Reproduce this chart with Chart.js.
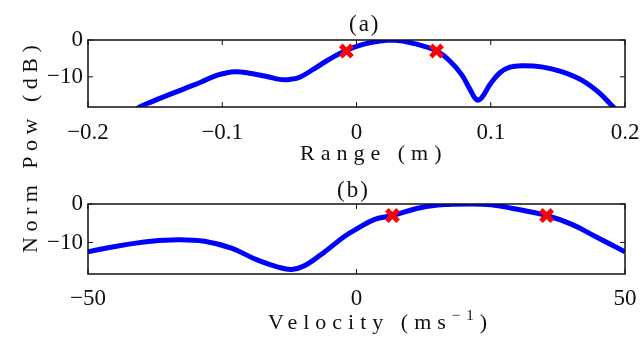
<!DOCTYPE html>
<html>
<head>
<meta charset="utf-8">
<script src="https://cdn.jsdelivr.net/npm/chart.js@4"></script>
<style>
  body { margin: 0; background: #fff; }
  #wrap { position: relative; width: 642px; height: 337px; }
  canvas { position: absolute; left: 0; top: 0; }
</style>
</head>
<body>
<div id="wrap">
  <canvas id="rangeChart" width="642" height="337"></canvas>
  <canvas id="velocityChart" width="642" height="337"></canvas>
</div>
<script>
// tick positions
const rangeTicks = [-0.2, -0.1, 0, 0.1, 0.2];
const velocityTicks = [-50, 0, 50];
const powTicks = [-10, 0];

// (a) normalised power against range
const rangeM = [-0.165, -0.1615, -0.1528, -0.128, -0.1156, -0.1031, -0.0907, -0.0783, -0.0659,
  -0.0572, -0.0497, -0.0423, -0.0323, -0.0224, -0.0075, 0.0049, 0.0174, 0.0273, 0.0422, 0.0596,
  0.0695, 0.0783, 0.0845, 0.0894, 0.0932, 0.0994, 0.1068, 0.1143, 0.123, 0.1379, 0.1528, 0.1677,
  0.18, 0.19, 0.194];
const rangePow = [-19.2, -18.2, -16.8, -13.2, -11.4, -9.5, -8.6, -9.1, -10.0,
  -10.7, -10.7, -10.1, -8.0, -5.7, -2.8, -1.2, -0.3, 0, -0.9, -3.0,
  -5.7, -9.4, -13.4, -16.2, -15.7, -12.1, -8.9, -7.4, -7.0, -7.3, -8.6, -10.9,
  -14.1, -17.7, -19.2];
const rangeMarkM = [-0.0075, 0.0596];
const rangeMarkPow = [-3, -3];

// (b) normalised power against velocity
const velocity = [-50, -44.4, -38.2, -33.3, -28.3, -23.3, -18.4, -14.6, -12.1, -9.6, -5.9, -2.2,
  0, 3.4, 6.7, 12.1, 17, 21, 25, 28.9, 35.4, 40.1, 44.4, 50];
const velocityPow = [-12.4, -10.9, -9.7, -9.3, -9.7, -11.5, -14.6, -16.4, -17.0, -16.0, -12.4, -8.4,
  -6.5, -4.0, -3.0, -0.9, -0.1, 0, -0.2, -1.1, -3.0, -5.3, -8.4, -12.4];
const velocityMarkV = [6.7, 35.4];
const velocityMarkPow = [-3, -3];

const SERIF = "'Liberation Serif', 'DejaVu Serif', serif";
const INK = '#111';

function toPoints(xs, ys) {
  return xs.map((x, i) => ({ x: x, y: ys[i] }));
}

function minusLabel(v) {
  return v < 0 ? '\u2212' + Math.abs(v) : String(v);
}

// draw a row of text pieces, some of them raised as superscripts
function drawPieces(ctx, pieces, x, y, size, spacing) {
  let cx = x;
  pieces.forEach(p => {
    const fs = p.sup ? Math.round(size * 0.7) : size;
    ctx.font = fs + 'px ' + SERIF;
    ctx.letterSpacing = spacing + 'px';
    ctx.fillText(p.text, cx, p.sup ? y - size * 0.4 : y);
    cx += ctx.measureText(p.text).width;
  });
  ctx.letterSpacing = '0px';
}

// box round the axes, inward ticks on all four sides, titles
const framePlugin = {
  id: 'frame',
  afterDatasetsDraw(chart, args, opts) {
    const { ctx, chartArea: a, scales } = chart;
    ctx.save();
    ctx.strokeStyle = INK;
    ctx.lineWidth = 1.5;
    ctx.strokeRect(a.left, a.top, a.right - a.left, a.bottom - a.top);
    ctx.lineWidth = 1;
    ctx.beginPath();
    scales.x.ticks.forEach(t => {
      const px = scales.x.getPixelForValue(t.value);
      ctx.moveTo(px, a.bottom); ctx.lineTo(px, a.bottom - 5);
      ctx.moveTo(px, a.top); ctx.lineTo(px, a.top + 5);
    });
    scales.y.ticks.forEach(t => {
      const py = scales.y.getPixelForValue(t.value);
      ctx.moveTo(a.left, py); ctx.lineTo(a.left + 5, py);
      ctx.moveTo(a.right, py); ctx.lineTo(a.right - 5, py);
    });
    ctx.stroke();

    ctx.fillStyle = INK;
    ctx.textBaseline = 'alphabetic';
    ctx.textAlign = 'left';
    drawPieces(ctx, [{ text: opts.title }], opts.titleX, opts.titleY, 23, 2);
    drawPieces(ctx, opts.xLabel, opts.xLabelX, opts.xLabelY, 22, 6);

    if (opts.yLabel) {
      ctx.translate(opts.yLabelX, opts.yLabelY);
      ctx.rotate(-Math.PI / 2);
      drawPieces(ctx, [{ text: opts.yLabel }], 0, 0, 22, 5.5);
    }
    ctx.restore();
  }
};

function makeChart(id, cfg) {
  return new Chart(document.getElementById(id), {
    type: 'line',
    data: {
      datasets: [{
        data: toPoints(cfg.markX, cfg.markY),
        showLine: false,
        pointStyle: 'crossRot',
        pointRadius: 8,
        pointBorderWidth: 5,
        pointBorderColor: '#ff0000',
        order: 0
      }, {
        data: toPoints(cfg.xs, cfg.ys),
        borderColor: '#0000ff',
        borderWidth: 5,
        pointRadius: 0,
        tension: 0.4,
        clip: 0,
        order: 1
      }]
    },
    options: {
      responsive: false,
      animation: false,
      events: [],
      layout: { padding: cfg.padding },
      plugins: {
        legend: { display: false },
        tooltip: { enabled: false },
        frame: cfg.frame
      },
      scales: {
        x: {
          type: 'linear',
          min: cfg.xTicks[0],
          max: cfg.xTicks[cfg.xTicks.length - 1],
          afterBuildTicks: s => { s.ticks = cfg.xTicks.map(v => ({ value: v })); },
          afterFit: s => { s.height = 63; s.paddingLeft = 0; s.paddingRight = 0; },
          grid: { display: false, drawTicks: false },
          border: { display: false },
          ticks: {
            padding: cfg.xTickPad,
            color: INK,
            font: { family: SERIF, size: 23 },
            maxRotation: 0,
            autoSkip: false,
            callback: minusLabel
          }
        },
        y: {
          min: -18.2,
          max: 0,
          afterBuildTicks: s => { s.ticks = powTicks.map(v => ({ value: v })); },
          afterFit: s => { s.width = 88; s.paddingTop = 0; s.paddingBottom = 0; },
          grid: { display: false, drawTicks: false },
          border: { display: false },
          ticks: {
            padding: 5,
            color: INK,
            font: { family: SERIF, size: 23 },
            callback: minusLabel
          }
        }
      }
    },
    plugins: [framePlugin]
  });
}

makeChart('rangeChart', {
  xs: rangeM, ys: rangePow, markX: rangeMarkM, markY: rangeMarkPow,
  xTicks: rangeTicks, xTickPad: 12,
  padding: { left: 0, right: 17, top: 40, bottom: 167 },
  frame: {
    title: '(a)', titleX: 349, titleY: 31,
    xLabel: [{ text: 'Range (m)' }], xLabelX: 300, xLabelY: 160,
    yLabel: 'Norm Pow (dB)', yLabelX: 37, yLabelY: 253
  }
});

makeChart('velocityChart', {
  xs: velocity, ys: velocityPow, markX: velocityMarkV, markY: velocityMarkPow,
  xTicks: velocityTicks, xTickPad: 11,
  padding: { left: 0, right: 17, top: 204, bottom: 0 },
  frame: {
    title: '(b)', titleX: 337, titleY: 197,
    xLabel: [{ text: 'Velocity (ms' }, { text: '\u22121', sup: true }, { text: ')' }],
    xLabelX: 268, xLabelY: 329
  }
});
</script>
</body>
</html>
